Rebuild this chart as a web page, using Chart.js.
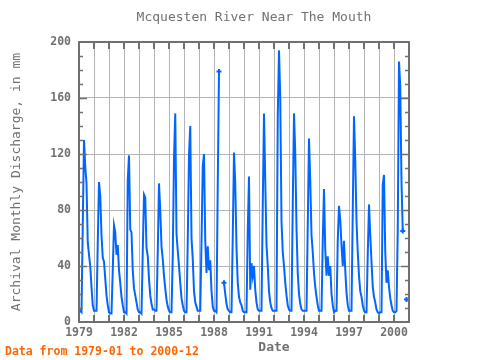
<!DOCTYPE html>
<html>
<head>
<meta charset="utf-8">
<title>Mcquesten River Near The Mouth</title>
<script src="https://cdn.jsdelivr.net/npm/chart.js@4.4.1/dist/chart.umd.min.js"></script>
<style>
  html, body { margin: 0; padding: 0; background: #ffffff; }
  #chart { display: block; }
</style>
</head>
<body>
<canvas id="chart" width="480" height="360"></canvas>
<script>
// Monthly series, January 1979 to December 2000 (null = missing month)
const startYear = 1979;
const endYear = 2001;
const yearLabels = ['1979', '1982', '1985', '1988', '1991', '1994', '1997', '2000'];
const valueTicks = [0, 40, 80, 120, 160, 200];

const discharge = [
    7, 8, 7, 69, 130, 111, 99, 57, 48, 40, 25, 12,        // 1979
    8, 8, 8, 56, 100, 90, 62, 46, 43, 31, 19, 12,         // 1980
    7, 6, 6, 37, 69, 64, 48, 55, 37, 28, 18, 12,          // 1981
    7, 7, 6, 101, 119, 66, 64, 37, 24, 19, 14, 9,         // 1982
    7, 7, 6, 50, 91, 89, 53, 47, 31, 19, 13, 9,           // 1983
    9, 8, 8, 50, 99, 80, 54, 45, 33, 24, 16, 11,          // 1984
    8, 7, 7, 47, 117, 149, 63, 51, 40, 28, 17, 12,        // 1985
    8, 7, 7, 58, 119, 140, 60, 45, 22, 14, 11, 8,         // 1986
    8, 8, 57, 111, 120, 58, 35, 54, 37, 44, 22, 11,       // 1987
    8, 8, 7, 98, 179, null, null, null, 28, 20, 13, 9,    // 1988
    8, 7, 7, 61, 121, 99, 53, 28, 18, 14, 12, 8,          // 1989
    7, 7, 7, 65, 104, 23, 42, 33, 40, 23, 14, 9,          // 1990
    8, 8, 8, 83, 149, 101, 55, 40, 22, 14, 10, 8,         // 1991
    8, 8, 8, 147, 194, 160, 72, 50, 40, 28, 19, 12,       // 1992
    9, 8, 8, 83, 149, 121, 67, 35, 20, 13, 9, 8,          // 1993
    8, 8, 8, 69, 131, 101, 62, 50, 35, 25, 18, 12,        // 1994
    8, 8, 8, 58, 95, 52, 33, 47, 33, 40, 20, 12,          // 1995
    7, 8, 8, 58, 83, 73, 55, 40, 58, 37, 21, 12,          // 1996
    8, 8, 8, 79, 147, 116, 72, 50, 33, 22, 18, 12,        // 1997
    8, 7, 7, 48, 84, 62, 43, 25, 18, 14, 9, 7,            // 1998
    6, 7, 7, 98, 105, 50, 28, 37, 25, 17, 12, 8,          // 1999
    7, 7, 8, 66, 186, 168, 100, 65, null, null, 16, null  // 2000
];

const GRAY = '#707070';
const MONO = '"DejaVu Sans Mono", "Liberation Mono", monospace';

// points of the series as {x: decimal year, y: value}
const points = discharge.map((v, i) => ({ x: startYear + i / 12, y: v }));

// markers only where the line is broken (ends next to missing months)
function markerRadius(ctx) {
    const i = ctx.dataIndex;
    if (discharge[i] === null) return 0;
    const prev = i > 0 ? discharge[i - 1] : 0;
    const next = i < discharge.length - 1 ? discharge[i + 1] : 0;
    return (prev === null || next === null) ? 2.5 : 0;
}

// frame, inside tick marks and the texts around the plot
const frameAndText = {
    id: 'frameAndText',
    afterDatasetsDraw(chart) {
        const { ctx, chartArea: a, scales: { x, y } } = chart;
        ctx.save();
        ctx.strokeStyle = GRAY;
        ctx.lineWidth = 2;
        ctx.beginPath();
        for (let yr = startYear + 1; yr < endYear; yr++) {
            const px = Math.round(x.getPixelForValue(yr));
            ctx.moveTo(px, a.top);
            ctx.lineTo(px, a.top + 7);
            ctx.moveTo(px, a.bottom);
            ctx.lineTo(px, a.bottom - 7);
        }
        ctx.stroke();

        ctx.lineWidth = 1.5;
        ctx.beginPath();
        for (let v = 10; v < 200; v += 10) {
            const py = Math.round(y.getPixelForValue(v)) + 0.5;
            const len = v % 40 === 0 ? 8 : 4;
            ctx.moveTo(a.left, py);
            ctx.lineTo(a.left + len, py);
            ctx.moveTo(a.right, py);
            ctx.lineTo(a.right - len, py);
        }
        ctx.stroke();

        ctx.lineWidth = 2;
        ctx.strokeRect(a.left, a.top, a.right - a.left, a.bottom - a.top);
        ctx.restore();
    },
    afterDraw(chart) {
        const { ctx, chartArea: a } = chart;
        ctx.save();
        ctx.fillStyle = GRAY;
        ctx.textAlign = 'center';
        ctx.textBaseline = 'middle';

        ctx.font = '13px ' + MONO;
        ctx.fillText('Mcquesten River Near The Mouth', 254, 18);

        ctx.font = 'bold 13px ' + MONO;
        ctx.fillText('Date', 274, 348);

        ctx.save();
        ctx.translate(17, (a.top + a.bottom) / 2);
        ctx.rotate(-Math.PI / 2);
        ctx.font = '13px ' + MONO;
        ctx.fillText('Archival Monthly Discharge, in mm', 0, 0);
        ctx.restore();

        ctx.textAlign = 'left';
        ctx.fillStyle = '#ff6600';
        ctx.font = 'bold 11.5px ' + MONO;
        ctx.fillText('Data from 1979-01 to 2000-12', 5, 352);
        ctx.restore();
    }
};

new Chart(document.getElementById('chart'), {
    type: 'line',
    data: {
        datasets: [{
            label: 'Archival Monthly Discharge',
            data: points,
            borderColor: 'rgb(0, 102, 255)',
            backgroundColor: 'rgb(0, 102, 255)',
            borderWidth: 2,
            tension: 0,
            spanGaps: false,
            pointStyle: 'cross',
            pointRadius: markerRadius,
            pointBorderWidth: 2,
            pointHoverRadius: 0
        }]
    },
    options: {
        responsive: false,
        animation: false,
        devicePixelRatio: 1,
        layout: { padding: { left: 0, right: 71, top: 42, bottom: 0 } },
        plugins: {
            legend: { display: false },
            tooltip: { enabled: false },
            title: { display: false }
        },
        scales: {
            x: {
                type: 'linear',
                min: startYear,
                max: endYear,
                afterFit: (scale) => { scale.height = 38; },
                grid: { color: '#b4b4b4', lineWidth: 1, drawTicks: false },
                border: { display: false },
                ticks: {
                    stepSize: 1,
                    autoSkip: false,
                    maxRotation: 0,
                    maxTicksLimit: 30,
                    padding: 4,
                    color: GRAY,
                    font: { family: MONO, size: 11.5, weight: 'bold' },
                    callback: (value) => yearLabels.includes(String(value)) ? String(value) : ''
                }
            },
            y: {
                min: 0,
                max: 200,
                afterFit: (scale) => { scale.width = 79; },
                grid: { color: '#b4b4b4', lineWidth: 1, drawTicks: false },
                border: { display: false },
                ticks: {
                    stepSize: 40,
                    padding: 8,
                    color: GRAY,
                    font: { family: MONO, size: 11.5, weight: 'bold' },
                    callback: (value) => valueTicks.includes(value) ? String(value) : ''
                }
            }
        }
    },
    plugins: [frameAndText]
});
</script>
</body>
</html>
